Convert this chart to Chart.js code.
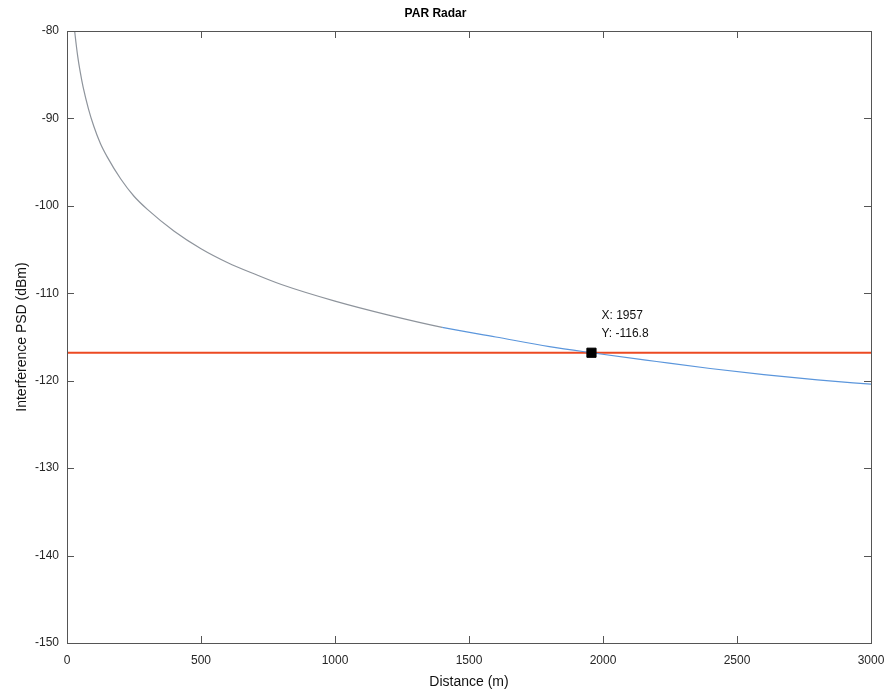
<!DOCTYPE html>
<html>
<head>
<meta charset="utf-8">
<script src="https://cdn.jsdelivr.net/npm/chart.js@4"></script>
<style>
  body { margin: 0; background: #fff; }
  #wrap { width: 892px; height: 691px; }
</style>
</head>
<body>
<div id="wrap"><canvas id="parChart" width="892" height="691"></canvas></div>
<script>
// Interference PSD vs distance
const distance = [25, 30, 40, 50, 60, 80, 100, 125, 150, 200, 250, 300, 400, 500, 600, 700, 800, 1000, 1200, 1400, 1600, 1800, 1957, 2200, 2400, 2600, 2800, 3000];
const psd = [-78.9, -80.4, -82.9, -84.8, -86.4, -88.9, -90.9, -92.9, -94.4, -96.9, -98.9, -100.4, -102.9, -104.9, -106.5, -107.8, -109.0, -110.9, -112.5, -113.9, -115.0, -116.1, -116.8, -117.8, -118.6, -119.3, -119.9, -120.4];

// Threshold line and the data tip
const thresholdX = [0, 3000];
const threshold = -116.8;
const tipX = 1957;
const tipY = -116.8;

const xTicks = [0, 500, 1000, 1500, 2000, 2500, 3000];
const yTicks = [-150, -140, -130, -120, -110, -100, -90, -80];

const FONT = '"Liberation Sans", Arial, Helvetica, sans-serif';

// box around the plot + inward ticks on all four sides (MATLAB look)
const boxTicks = {
  id: 'boxTicks',
  afterDraw(chart) {
    const { ctx, chartArea: a, scales } = chart;
    ctx.save();
    ctx.strokeStyle = '#555';
    ctx.lineWidth = 1;
    ctx.strokeRect(a.left + 0.5, a.top + 0.5, a.right - a.left, a.bottom - a.top);
    ctx.beginPath();
    xTicks.forEach(v => {
      const px = Math.round(scales.x.getPixelForValue(v)) + 0.5;
      ctx.moveTo(px, a.bottom); ctx.lineTo(px, a.bottom - 7);
      ctx.moveTo(px, a.top); ctx.lineTo(px, a.top + 7);
    });
    yTicks.forEach(v => {
      const py = Math.round(scales.y.getPixelForValue(v)) + 0.5;
      ctx.moveTo(a.left, py); ctx.lineTo(a.left + 7, py);
      ctx.moveTo(a.right, py); ctx.lineTo(a.right - 7, py);
    });
    ctx.stroke();
    ctx.restore();
  }
};

// data tip label
const dataTip = {
  id: 'dataTip',
  afterDraw(chart) {
    const { ctx, scales } = chart;
    const px = scales.x.getPixelForValue(tipX);
    const py = scales.y.getPixelForValue(tipY);
    ctx.save();
    ctx.fillStyle = '#111';
    ctx.font = '12px ' + FONT;
    ctx.textBaseline = 'middle';
    ctx.fillText('X: ' + tipX, px + 10, py - 37);
    ctx.fillText('Y: ' + tipY.toFixed(1), px + 10, py - 19);
    ctx.restore();
  }
};

const ctx = document.getElementById('parChart').getContext('2d');
const parChart = new Chart(ctx, {
  type: 'scatter',
  data: {
    datasets: [
      {
        label: 'Interference PSD',
        data: distance.map((d, i) => ({ x: d, y: psd[i] })),
        showLine: true,
        borderWidth: 1.2,
        pointRadius: 0,
        cubicInterpolationMode: 'monotone',
        borderColor: '#5b8fd0',
        segment: {
          borderColor: c => c.p0.parsed.x < 1300 ? '#8e949c' : '#5b96dc'
        },
        order: 2
      },
      {
        label: 'Threshold',
        data: thresholdX.map(x => ({ x: x, y: threshold })),
        showLine: true,
        borderColor: '#ec4a22',
        borderWidth: 2.2,
        pointRadius: 0,
        order: 3
      },
      {
        label: 'Data tip',
        data: [{ x: tipX, y: tipY }],
        pointStyle: 'rect',
        pointRadius: 6.5,
        backgroundColor: '#000',
        borderColor: '#000',
        order: 1
      }
    ]
  },
  options: {
    responsive: false,
    animation: false,
    layout: { padding: { left: 0, right: 21, top: 0, bottom: 0 } },
    plugins: {
      legend: { display: false },
      tooltip: { enabled: false },
      title: {
        display: true,
        text: 'PAR Radar',
        color: '#000',
        font: { family: FONT, size: 12, weight: 'bold' },
        padding: { top: 6, bottom: 10.6 }
      }
    },
    scales: {
      x: {
        type: 'linear',
        min: 0,
        max: 3000,
        afterBuildTicks: s => { s.ticks = xTicks.map(v => ({ value: v })); },
        afterFit: s => { s.height = 48; },
        grid: { display: false },
        border: { display: false },
        ticks: {
          color: '#262626', font: { family: FONT, size: 12 }, padding: 2, maxRotation: 0,
          callback: v => String(v)
        },
        title: {
          display: true,
          text: 'Distance (m)',
          color: '#111',
          font: { family: FONT, size: 14 },
          padding: { top: 2, bottom: 0 }
        }
      },
      y: {
        type: 'linear',
        min: -150,
        max: -80,
        afterBuildTicks: s => { s.ticks = yTicks.map(v => ({ value: v })); },
        afterFit: s => { s.width = 67; },
        grid: { display: false },
        border: { display: false },
        ticks: { color: '#262626', font: { family: FONT, size: 12 }, padding: 0, callback: v => String(v) },
        title: {
          display: true,
          text: 'Interference PSD (dBm)',
          color: '#111',
          font: { family: FONT, size: 14 },
          padding: { top: 14, bottom: 0 }
        }
      }
    }
  },
  plugins: [boxTicks, dataTip]
});
</script>
</body>
</html>
